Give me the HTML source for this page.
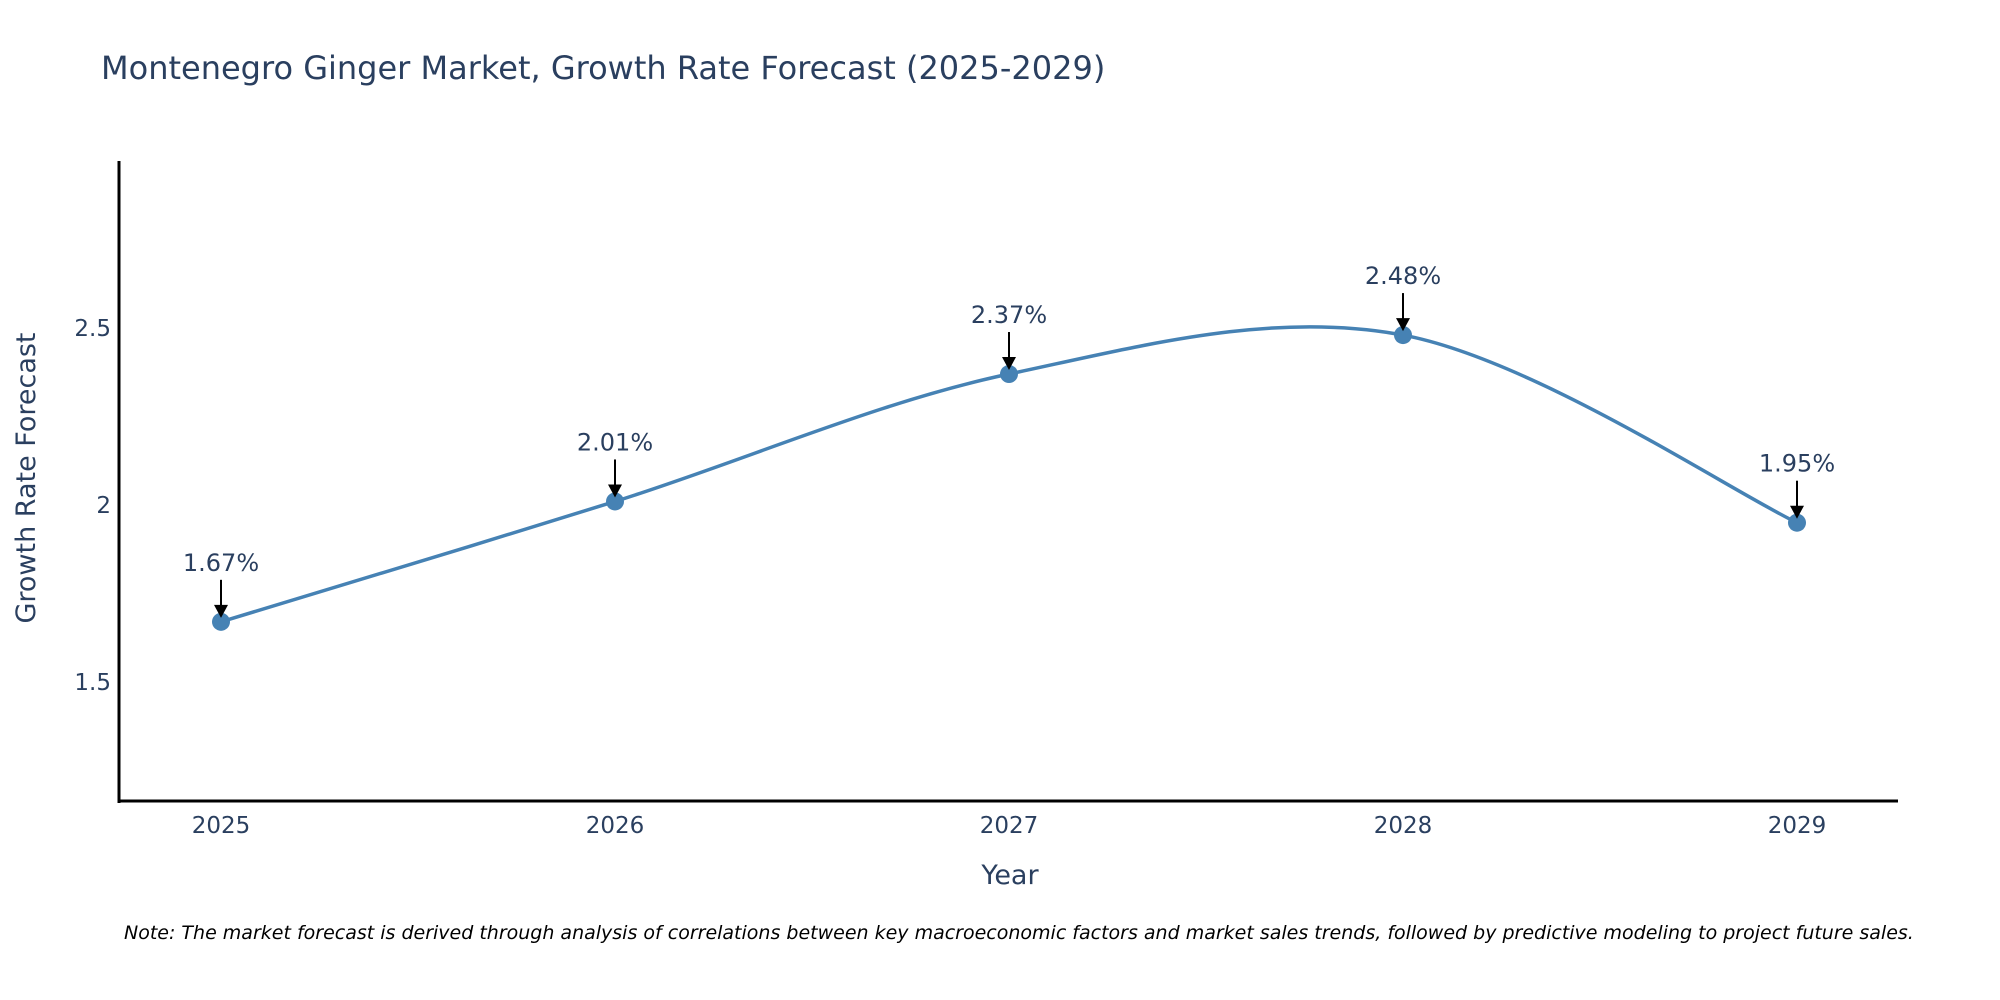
<!DOCTYPE html>
<html><head><meta charset="utf-8"><style>
body{margin:0;background:#fff;overflow:hidden;}
svg{display:block;font-family:"DejaVu Sans","Liberation Sans",sans-serif;}
</style></head><body>
<svg id="chart" width="2000" height="1000">
<text x="101" y="79" font-size="32" fill="#2a3f5f">Montenegro Ginger Market, Growth Rate Forecast (2025-2029)</text>
<g id="yticks"></g><g id="xticks"></g>
<line x1="119" y1="161" x2="119" y2="803" stroke="#000" stroke-width="3"/>
<line x1="118" y1="801" x2="1898" y2="801" stroke="#000" stroke-width="3"/>
<path id="line" fill="none" stroke="#4682b4" stroke-width="3.5"/>
<g id="marks"></g>
<text x="1010" y="884" font-size="27" fill="#2a3f5f" text-anchor="middle">Year</text>
<text transform="translate(35,478) rotate(-90)" font-size="27" fill="#2a3f5f" text-anchor="middle">Growth Rate Forecast</text>
<text x="124" y="939" font-size="19" font-style="italic" fill="#000">Note: The market forecast is derived through analysis of correlations between key macroeconomic factors and market sales trends, followed by predictive modeling to project future sales.</text>
</svg>
<script>
const years=[2025,2026,2027,2028,2029];
const values=[1.67,2.01,2.37,2.48,1.95];
const labels=["1.67%","2.01%","2.37%","2.48%","1.95%"];
const yTicks=[1.5,2,2.5];
const NS="http://www.w3.org/2000/svg";
const xS=v=>221+(v-2025)*394;
const yS=v=>682-(v-1.5)*354;
function mk(t,a,p){const e=document.createElementNS(NS,t);for(const k in a)e.setAttribute(k,a[k]);p.appendChild(e);return e;}
const yt=document.getElementById('yticks');
yTicks.forEach(v=>{const t=mk('text',{x:111,y:yS(v)+8,'font-size':23,fill:'#2a3f5f','text-anchor':'end'},yt);t.textContent=String(v);

});
const xt=document.getElementById('xticks');
years.forEach(v=>{const t=mk('text',{x:xS(v),y:833,'font-size':23,fill:'#2a3f5f','text-anchor':'middle'},xt);t.textContent=String(v);

});
const P=years.map((y,i)=>[xS(y),yS(values[i])]);
let d="M"+P[0][0]+","+P[0][1];
for(let i=0;i<P.length-1;i++){
 const p0=P[Math.max(i-1,0)],p1=P[i],p2=P[i+1],p3=P[Math.min(i+2,P.length-1)];
 const k=1/6;
 const c1=[p1[0]+(p2[0]-p0[0])*k,p1[1]+(p2[1]-p0[1])*k];
 const c2=[p2[0]-(p3[0]-p1[0])*k,p2[1]-(p3[1]-p1[1])*k];
 d+=` C${c1[0]},${c1[1]} ${c2[0]},${c2[1]} ${p2[0]},${p2[1]}`;
}
document.getElementById('line').setAttribute('d',d);
const m=document.getElementById('marks');
P.forEach((p,i)=>{
 const c=mk('circle',{cx:p[0],cy:p[1],r:9,fill:'#4682b4'},m);
 
 
 const l=mk('line',{x1:p[0],y1:p[1]-42,x2:p[0],y2:p[1]-14,stroke:'#000','stroke-width':2},m);
 
 
 const h=mk('path',{d:`M${p[0]-7},${p[1]-17} L${p[0]+7},${p[1]-17} L${p[0]},${p[1]-4} Z`,fill:'#000'},m);
 
 
 const t=mk('text',{x:p[0],y:p[1]-51,'font-size':24,fill:'#2a3f5f','text-anchor':'middle'},m);
 t.textContent=labels[i];
 
 
});
</script>
</body></html>
